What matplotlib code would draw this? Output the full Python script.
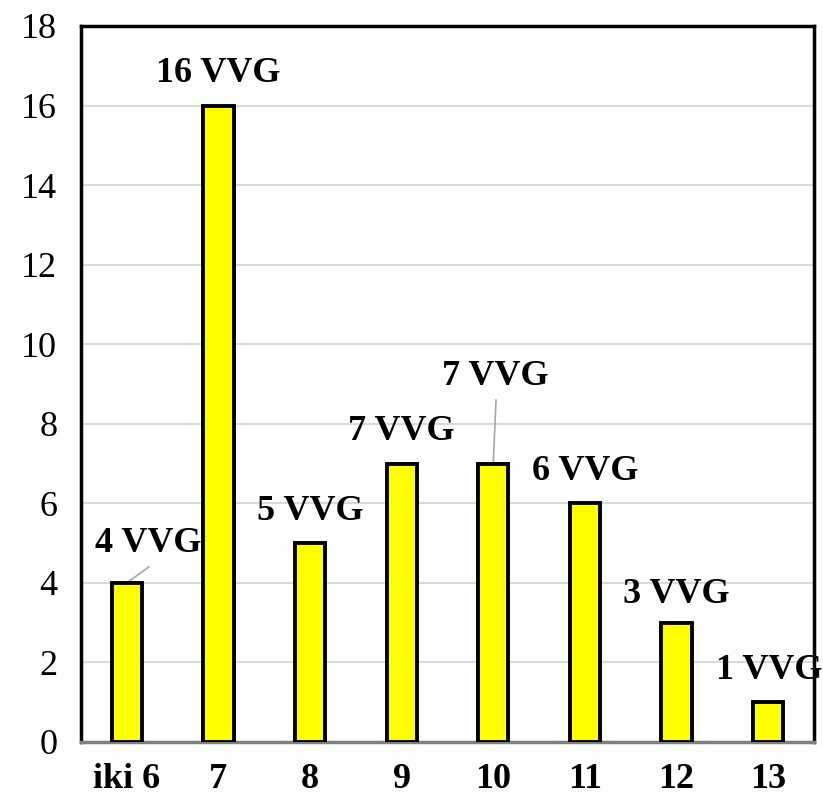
import matplotlib.pyplot as plt
import numpy as np

plt.rcParams['font.family'] = ['Liberation Serif', 'DejaVu Serif']

categories = ["iki 6", "7", "8", "9", "10", "11", "12", "13"]
counts = [4, 16, 5, 7, 7, 6, 3, 1]
labels = ["4 VVG", "16 VVG", "5 VVG", "7 VVG", "7 VVG", "6 VVG", "3 VVG", "1 VVG"]
# label positions (x offset in category units, y in data units)
label_x = [0.23, 0.0, 0.0, 0.0, 0.02, 0.0, 0.0, 0.01]
label_y = [5.0, 16.8, 5.8, 7.8, 9.2, 6.8, 3.7, 1.8]
# leader line start (x offset, y) or None
leader_start = [(0.24, 4.4), None, None, None, (0.03, 8.6), None, None, None]

fig = plt.figure(figsize=(8.23, 8), dpi=100)
ax = fig.add_axes([0.0984, 0.0725, 0.8906, 0.895])

x = np.arange(len(categories))
ax.bar(x, counts, width=0.33, color="#ffff00", edgecolor="black", linewidth=2.8, zorder=3)

for i in range(len(categories)):
    ax.text(x[i] + label_x[i], label_y[i], labels[i], ha="center", va="center",
            fontsize=26, fontweight="bold", zorder=4)
    if leader_start[i] is not None:
        sx, sy = leader_start[i]
        ax.plot([x[i] + sx, x[i]], [sy, counts[i]],
                color="#a6a6a6", linewidth=1.2, zorder=2)

ax.set_xlim(-0.5, len(categories) - 0.5)
ax.set_ylim(0, 18)
ax.set_yticks(range(0, 19, 2))
ax.set_xticks(x)
ax.set_xticklabels(categories, fontweight="bold")
ax.tick_params(axis="both", length=0, labelsize=26)
ax.tick_params(axis="x", pad=15)
ax.tick_params(axis="y", pad=17)

ax.grid(axis="y", color="#d9d9d9", linewidth=1.5, zorder=0)
for s in ["left", "top", "right"]:
    ax.spines[s].set_linewidth(2.5)
    ax.spines[s].set_color("black")
ax.spines["bottom"].set_color("#808080")
ax.spines["bottom"].set_linewidth(2.5)

fig.savefig("out.png", dpi=100)
